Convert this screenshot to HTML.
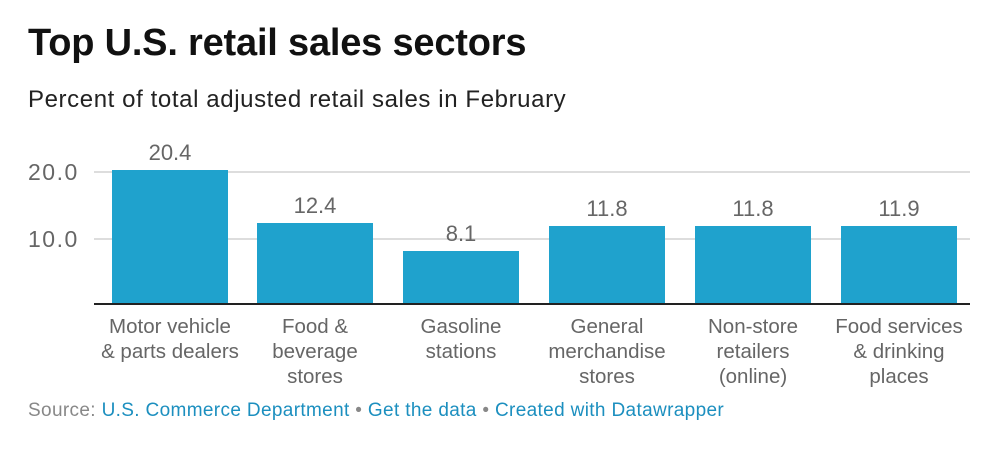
<!DOCTYPE html>
<html><head><style>
body{margin:0;width:1000px;height:455px;background:#fff;font-family:"Liberation Sans",sans-serif;position:relative;overflow:hidden}
.t{position:absolute;white-space:nowrap}
.bar{position:absolute;background:#1fa2cd}
.v{position:absolute;width:116px;text-align:center;font-size:22px;color:#666}
.lab{position:absolute;width:146px;text-align:center;font-size:20.5px;color:#666;line-height:25px;top:314px}
.g{position:absolute;left:94px;width:876px;height:2px;background:#ddd}
.y{position:absolute;left:28px;font-size:23px;color:#666;letter-spacing:1.5px}
</style></head><body>
<div class="t" style="left:28px;top:22px;font-size:38px;font-weight:bold;color:#111;letter-spacing:-0.2px">Top U.S. retail sales sectors</div>
<div class="t" style="left:28px;top:86px;font-size:24px;color:#222;letter-spacing:0.6px">Percent of total adjusted retail sales in February</div>
<div class="g" style="top:171px"></div>
<div class="g" style="top:238px"></div>
<div class="y" style="top:159px">20.0</div>
<div class="y" style="top:226px">10.0</div>
<div class="bar" style="left:112px;width:116px;top:170px;height:134px"></div>
<div class="bar" style="left:257px;width:116px;top:223px;height:81px"></div>
<div class="bar" style="left:403px;width:116px;top:251px;height:53px"></div>
<div class="bar" style="left:549px;width:116px;top:226px;height:78px"></div>
<div class="bar" style="left:695px;width:116px;top:226px;height:78px"></div>
<div class="bar" style="left:841px;width:116px;top:226px;height:78px"></div>
<div style="position:absolute;left:94px;top:303px;width:876px;height:2px;background:#222"></div>
<div class="v" style="left:112px;top:140px">20.4</div>
<div class="v" style="left:257px;top:193px">12.4</div>
<div class="v" style="left:403px;top:221px">8.1</div>
<div class="v" style="left:549px;top:196px">11.8</div>
<div class="v" style="left:695px;top:196px">11.8</div>
<div class="v" style="left:841px;top:196px">11.9</div>
<div class="lab" style="left:97px">Motor vehicle<br>&amp; parts dealers</div>
<div class="lab" style="left:242px">Food &amp;<br>beverage<br>stores</div>
<div class="lab" style="left:388px">Gasoline<br>stations</div>
<div class="lab" style="left:534px">General<br>merchandise<br>stores</div>
<div class="lab" style="left:680px">Non-store<br>retailers<br>(online)</div>
<div class="lab" style="left:826px">Food services<br>&amp; drinking<br>places</div>
<div class="t" style="left:28px;top:400px;font-size:19px;color:#888;letter-spacing:0.35px">Source: <span style="color:#1c8fbf">U.S. Commerce Department</span> • <span style="color:#1c8fbf">Get the data</span> • <span style="color:#1c8fbf">Created with Datawrapper</span></div>
</body></html>
